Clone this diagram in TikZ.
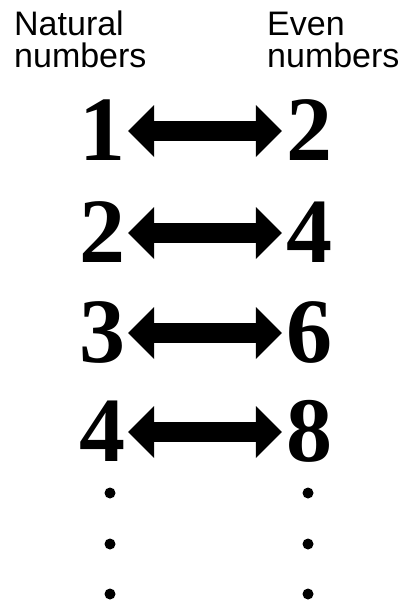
\documentclass[tikz,border=0pt]{standalone}
\usepackage{fontspec}
\setmainfont{Liberation Serif}
\setsansfont{Liberation Sans}
\usetikzlibrary{arrows.meta,positioning}

\begin{document}
\begin{tikzpicture}[
    x=1pt, y=-1pt,
    header/.style={anchor=base west, inner sep=0pt, align=left, font=\sffamily\fontsize{34}{32}\selectfont},
    digit/.style={anchor=base, inner sep=0pt, font=\bfseries\fontsize{92}{92}\selectfont},
    pairarrow/.style={line width=20pt, {Triangle[length=26pt,width=52pt,line width=0pt]}-{Triangle[length=26pt,width=52pt,line width=0pt]}},
    dot/.style={circle, fill, inner sep=0pt, minimum size=11pt},
  ]
  \useasboundingbox (0,0) rectangle (407,605);
  % Headers
  \node[header] (natural) at (14,67) {Natural\\numbers};
  \node[header] (even) at (267,67) {Even\\numbers};

  % Pairs
  \foreach \n/\e/\y in {1/2/160, 2/4/262, 3/6/362, 4/8/461} {
    \node[digit] (n\n) at (102,\y) {\n};
    \node[digit] (e\n) at (309,\y) {\e};
    \draw[pairarrow] ([shift={(3pt,29pt)}]n\n.base east) -- ([shift={(-4pt,29pt)}]e\n.base west);
  }

  % Dots
  \foreach \y [count=\k] in {493,544,594} {
    \node[dot] (ldot\k) at (110,\y) {};
    \node[dot] (rdot\k) at (308,\y) {};
  }
\end{tikzpicture}
\end{document}
